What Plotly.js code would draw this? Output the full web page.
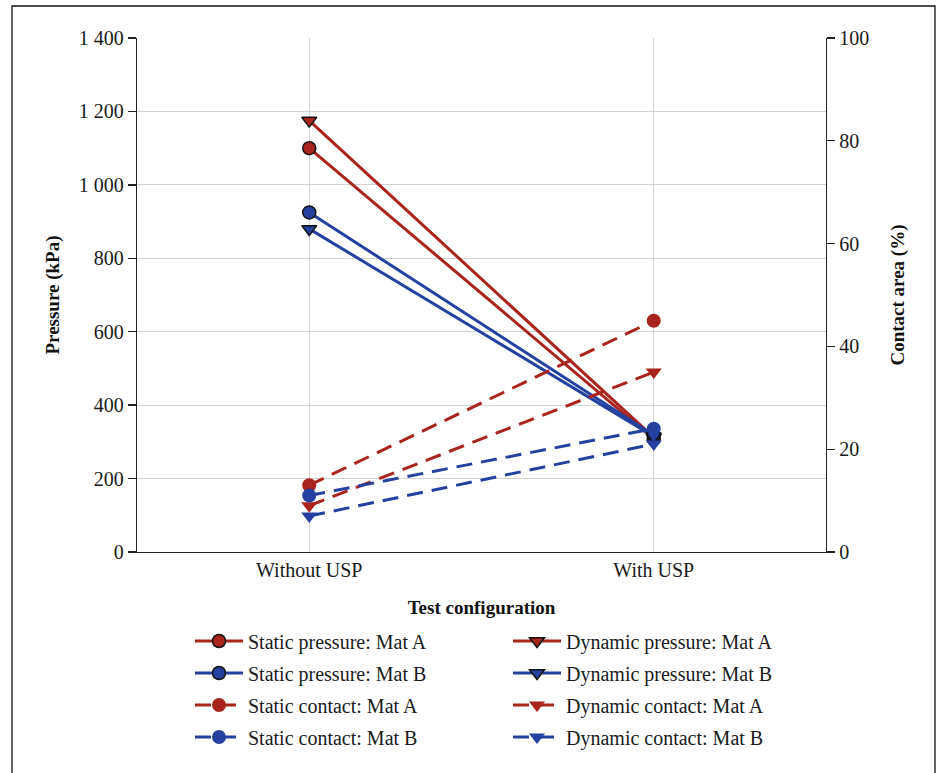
<!DOCTYPE html>
<html>
<head>
<meta charset="utf-8">
<script src="https://cdn.plot.ly/plotly-3.0.1.min.js"></script>
<style>html,body{margin:0;padding:0;background:#fff;}#chart{width:940px;height:773px;}</style>
</head>
<body>
<div id="chart"></div>
<script>
const categories = ['Without USP', 'With USP'];
const staticPressureA = [1100, 308];
const dynamicPressureA = [1175, 312];
const staticPressureB = [925, 318];
const dynamicPressureB = [880, 315];
const staticContactA = [13, 45];
const dynamicContactA = [9, 35];
const staticContactB = [11, 24];
const dynamicContactB = [7, 21];
const pressureTicks = [0, 200, 400, 600, 800, 1000, 1200, 1400];
const pressureTickText = ['0', '200', '400', '600', '800', '1 000', '1 200', '1 400'];
const contactTicks = [0, 20, 40, 60, 80, 100];

const RED = '#a8241c';
const BLUE = '#2541a0';
const FONT = 'Liberation Serif, Times New Roman, serif';

function pressure(name, y, color, symbol, legend) {
  return {x: categories, y: y, name: name, type: 'scatter', mode: 'lines+markers', yaxis: 'y', legend: legend,
    line: {color: color, width: 3},
    marker: {color: color, symbol: symbol, size: 13, line: {color: '#111', width: 1.5}}};
}
function contact(name, y, color, symbol, legend) {
  return {x: categories, y: y, name: name, type: 'scatter', mode: 'lines+markers', yaxis: 'y2', legend: legend,
    line: {color: color, width: 3, dash: '16px,9px'},
    marker: {color: color, symbol: symbol, size: 14, line: {width: 0}}};
}

const data = [
  pressure('Static pressure: Mat A', staticPressureA, RED, 'circle', 'legend'),
  pressure('Dynamic pressure: Mat A', dynamicPressureA, RED, 'triangle-down', 'legend'),
  pressure('Static pressure: Mat B', staticPressureB, BLUE, 'circle', 'legend2'),
  pressure('Dynamic pressure: Mat B', dynamicPressureB, BLUE, 'triangle-down', 'legend2'),
  contact('Static contact: Mat A', staticContactA, RED, 'circle', 'legend3'),
  contact('Dynamic contact: Mat A', dynamicContactA, RED, 'triangle-down', 'legend3'),
  contact('Static contact: Mat B', staticContactB, BLUE, 'circle', 'legend4'),
  contact('Dynamic contact: Mat B', dynamicContactB, BLUE, 'triangle-down', 'legend4')
];

const W = 689, H = 514, L = 137, T = 38;
function px(x) { return (x - L) / W; }
function py(y) { return (T + H - y) / H; }

function leg(yPix) {
  return {orientation: 'h', x: px(190), xanchor: 'left', y: py(yPix), yanchor: 'middle',
    entrywidth: 255, entrywidthmode: 'pixels', itemwidth: 48, traceorder: 'normal',
    font: {family: FONT, size: 20, color: '#1a1a1a'}, bgcolor: 'rgba(0,0,0,0)', borderwidth: 0};
}

const layout = {
  width: 940, height: 773,
  margin: {l: L, r: 940 - L - W, t: T, b: 773 - T - H, autoexpand: false},
  paper_bgcolor: '#fff', plot_bgcolor: '#fff',
  font: {family: FONT, size: 20, color: '#1a1a1a'},
  showlegend: true,
  xaxis: {
    type: 'category', range: [-0.5, 1.5],
    showgrid: true, gridcolor: '#d4d4d4', gridwidth: 1,
    showline: true, linecolor: '#222', linewidth: 1.3,
    ticks: '', tickfont: {family: FONT, size: 20, color: '#1a1a1a'},
    title: {text: '<b>Test configuration</b>', font: {family: FONT, size: 19, color: '#111'}, standoff: 20},
    zeroline: false, automargin: false
  },
  yaxis: {
    range: [0, 1400], tickvals: pressureTicks, ticktext: pressureTickText,
    showgrid: true, gridcolor: '#d4d4d4', gridwidth: 1,
    showline: true, linecolor: '#222', linewidth: 1.3,
    ticks: 'outside', ticklen: 8, tickcolor: '#222', tickwidth: 1.3,
    tickfont: {family: FONT, size: 20, color: '#1a1a1a'},
    title: {text: '<b>Pressure (kPa)</b>', font: {family: FONT, size: 19, color: '#111'}, standoff: 14},
    zeroline: false, automargin: false
  },
  yaxis2: {
    range: [0, 100], tickvals: contactTicks, overlaying: 'y', side: 'right',
    showgrid: false, showline: true, linecolor: '#222', linewidth: 1.3,
    ticks: 'outside', ticklen: 8, tickcolor: '#222', tickwidth: 1.3,
    tickfont: {family: FONT, size: 20, color: '#1a1a1a'},
    title: {text: '<b>Contact area (%)</b>', font: {family: FONT, size: 19, color: '#111'}, standoff: 22},
    zeroline: false, automargin: false
  },
  legend: leg(641),
  legend2: leg(673),
  legend3: leg(705),
  legend4: leg(737),
  shapes: [{type: 'rect', xref: 'paper', yref: 'paper', x0: px(12), x1: px(935), y0: py(790), y1: py(6),
    line: {color: '#111', width: 1.3}, fillcolor: 'rgba(0,0,0,0)', layer: 'below'}]
};

Plotly.newPlot('chart', data, layout, {displayModeBar: false, staticPlot: true});
</script>
</body>
</html>
